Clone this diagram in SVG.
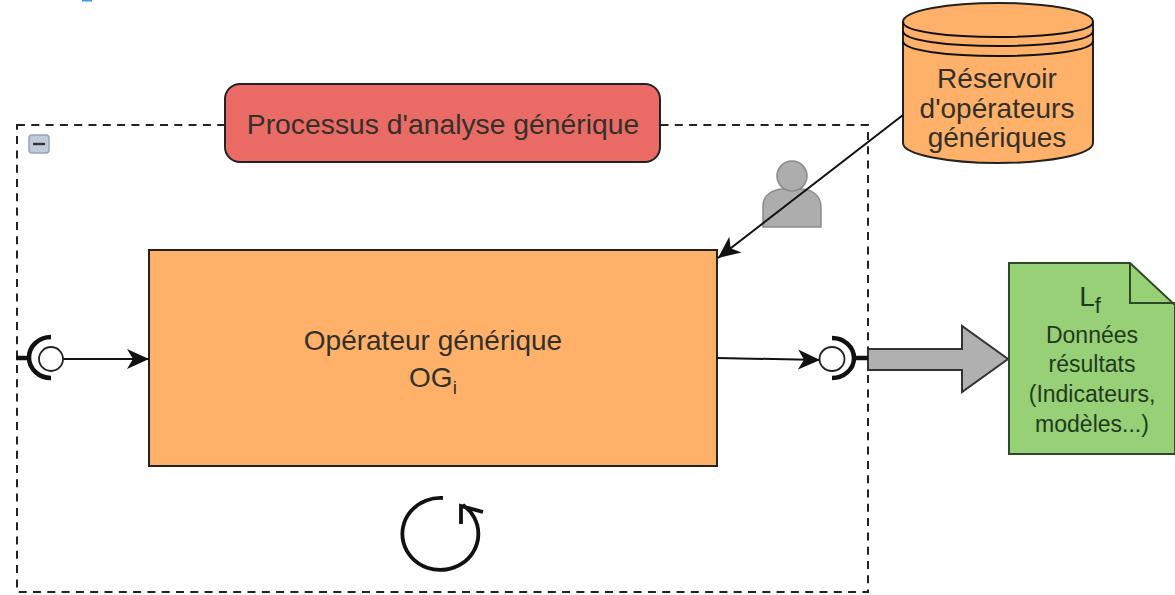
<svg xmlns="http://www.w3.org/2000/svg" width="1175" height="595" viewBox="0 0 1175 595">
<defs>
<style>
text{font-family:"Liberation Sans",Arial,sans-serif;fill:#33302a;text-anchor:middle}
.ln{fill:none;stroke:#111;stroke-width:2}
.thick{fill:none;stroke:#111;stroke-width:4.5}
.or{fill:#ffb16a;stroke:#222;stroke-width:2}
.gr{fill:#1f3a1b}
</style>
<marker id="ah" markerUnits="userSpaceOnUse" markerWidth="24" markerHeight="22" refX="22" refY="11" orient="auto"><path d="M0 1 L22 11 L0 21 L6 11 Z" fill="#111"/></marker>
</defs>
<rect width="1175" height="595" fill="#fff"/>
<rect x="82" y="0" width="10" height="1.5" fill="#3a9be0"/>
<g id="container">
<rect x="17" y="125" width="851" height="467" fill="none" stroke="#222" stroke-width="2" stroke-dasharray="8 6.3"/>
<rect x="29" y="135" width="20" height="18" rx="3" fill="#c3cad6" stroke="#8ea6c6" stroke-width="1.5"/>
<line x1="33" y1="144" x2="45" y2="144" stroke="#333" stroke-width="2.4"/>
</g>
<g id="title">
<rect x="225" y="84" width="435" height="78" rx="15" fill="#ea6b66" stroke="#222" stroke-width="2"/>
<text x="443" y="134" font-size="28.3">Processus d'analyse générique</text>
</g>
<g id="reservoir">
<path class="or" d="M903 22 C903 10 950 3 998 3 C1046 3 1093 10 1093 22 V143 C1093 155 1046 163 998 163 C950 163 903 155 903 143 Z"/>
<path class="ln" d="M903 22 C903 32 950 37 998 37 C1046 37 1093 32 1093 22 M903 31 C903 41 950 46 998 46 C1046 46 1093 41 1093 31 M903 41 C903 51 950 56 998 56 C1046 56 1093 51 1093 41"/>
<text x="997" y="88" font-size="28">Réservoir</text>
<text x="997" y="118" font-size="28">d'opérateurs</text>
<text x="997" y="147" font-size="28">génériques</text>
</g>
<g id="operator">
<rect x="149" y="250" width="568" height="216" fill="#ffb16a" stroke="#222" stroke-width="2"/>
<text x="433" y="350" font-size="28">Opérateur générique</text>
<text x="433" y="387" font-size="28">OG<tspan font-size="19" dy="7">i</tspan></text>
</g>
<g id="user">
<path d="M763 227 V206 C763 195 772 190 782 189 H802 C813 190 821 196 821 208 V227 Z" fill="#adadad" stroke="#8a8a8a" stroke-width="1.5"/>
<circle cx="792" cy="176" r="15" fill="#adadad" stroke="#8a8a8a" stroke-width="1.5"/>
</g>
<g id="connectors">
<line class="ln" x1="903" y1="115" x2="718" y2="258" marker-end="url(#ah)"/>
<line class="ln" x1="63" y1="359" x2="149" y2="359" marker-end="url(#ah)"/>
<line class="ln" x1="717" y1="358" x2="820" y2="360" marker-end="url(#ah)"/>
<path d="M868 349 H962 V326 L1008 359 L962 392 V370 H868 Z" fill="#b0b0b0" stroke="#333" stroke-width="2"/>
</g>
<g id="port-in">
<circle cx="51" cy="359" r="12" fill="#fff" stroke="#222" stroke-width="1.8"/>
<path class="thick" d="M51 337 A22 20.5 0 0 0 51 378 M30 358 H16"/>
</g>
<g id="port-out">
<ellipse cx="832" cy="359" rx="12.5" ry="12" fill="#fff" stroke="#222" stroke-width="1.8"/>
<path class="thick" d="M832 338 A22 20 0 0 1 832 378 M854 358 H868"/>
</g>
<g id="result">
<path d="M1009 263 H1130 L1175 305 V454 H1009 Z" fill="#97d077" stroke="#2d4a28" stroke-width="2"/>
<path d="M1130 263 V303 H1175" fill="none" stroke="#2d4a28" stroke-width="2"/>
<text x="1090" y="306" font-size="28" class="gr">L<tspan font-size="22" dy="7">f</tspan></text>
<text x="1092" y="343" font-size="23" class="gr">Données</text>
<text x="1092" y="372" font-size="23" class="gr">résultats</text>
<text x="1092" y="402" font-size="23" class="gr">(Indicateurs,</text>
<text x="1092" y="432" font-size="23" class="gr">modèles...)</text>
</g>
<g id="loop">
<path d="M443 498 A38 36 0 1 0 463 505 M461 524 V506 L483 512" fill="none" stroke="#111" stroke-width="3.8"/>
</g>
</svg>
